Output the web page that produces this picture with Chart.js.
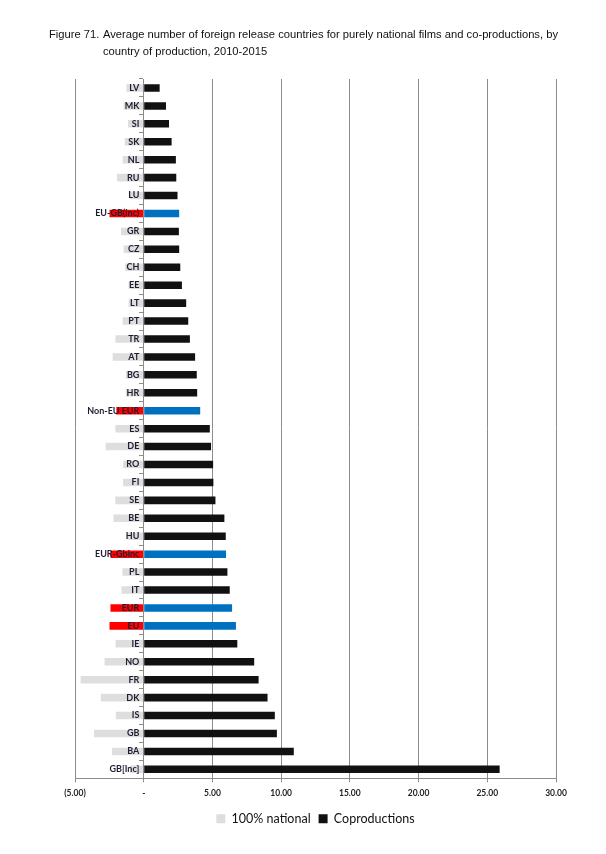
<!DOCTYPE html>
<html>
<head>
<meta charset="utf-8">
<script src="https://cdn.jsdelivr.net/npm/chart.js@4"></script>
<style>
  html, body { margin: 0; padding: 0; background: #fff; }
  #wrap { position: relative; width: 606px; height: 854px; }
  #title {
    position: absolute; left: 49px; top: 26px;
    font-family: "Liberation Sans", Arial, sans-serif;
    font-size: 11.2px; line-height: 17px; color: #111;
    display: flex; white-space: nowrap;
  }
  #title .num { width: 54px; flex: none; }
</style>
</head>
<body>
<div id="wrap">
  <div id="title">
    <div class="num">Figure 71.</div>
    <div>Average number of foreign release countries for purely national films and co-productions, by<br>country of production, 2010-2015</div>
  </div>
  <canvas id="chart"></canvas>
</div>
<script>
const countries = ['LV', 'MK', 'SI', 'SK', 'NL', 'RU', 'LU', 'EU-GB(inc)', 'GR', 'CZ', 'CH', 'EE', 'LT', 'PT',
  'TR', 'AT', 'BG', 'HR', 'Non-EU EUR', 'ES', 'DE', 'RO', 'FI', 'SE', 'BE', 'HU', 'EUR-Gbinc', 'PL', 'IT',
  'EUR', 'EU', 'IE', 'NO', 'FR', 'DK', 'IS', 'GB', 'BA', 'GB[Inc]'];

// purely national films (drawn to the left of zero)
const nationalValues = [1.26, 1.46, 1.14, 1.38, 1.53, 1.94, 1.0, 2.49, 1.65, 1.46, 1.35, 1.1, 1.1, 1.53,
  2.06, 2.26, 1.3, 1.3, 1.99, 2.06, 2.77, 1.5, 1.5, 2.07, 2.2, 1.2, 2.42, 1.55, 1.62,
  2.42, 2.49, 2.05, 2.85, 4.59, 3.12, 2.03, 3.62, 2.3, 1.0];

const coproductionValues = [1.16, 1.62, 1.84, 2.03, 2.34, 2.37, 2.46, 2.58, 2.56, 2.58, 2.66, 2.78, 3.09, 3.24,
  3.36, 3.74, 3.86, 3.89, 4.11, 4.81, 4.9, 5.05, 5.07, 5.22, 5.87, 5.97, 5.99, 6.09, 6.26,
  6.43, 6.71, 6.81, 8.04, 8.36, 9.01, 9.54, 9.69, 10.92, 25.9];

// aggregates shown in red / blue
const highlighted = ['EU-GB(inc)', 'Non-EU EUR', 'EUR-Gbinc', 'EUR', 'EU'];

const xTicks = [-5, 0, 5, 10, 15, 20, 25, 30];

const isHighlighted = i => i !== undefined && highlighted.includes(countries[i]);

const formatTick = v => {
  if (v === 0) return '-';
  const s = Math.abs(v).toFixed(2);
  return v < 0 ? '(' + s + ')' : s;
};

new Chart(document.getElementById('chart'), {
  type: 'bar',
  data: {
    labels: countries,
    datasets: [
      {
        label: '100% national',
        data: nationalValues.map(v => -v),
        backgroundColor: ctx => isHighlighted(ctx.dataIndex) ? '#ff0000' : '#dedede',
        borderWidth: 0
      },
      {
        label: 'Coproductions',
        data: coproductionValues,
        backgroundColor: ctx => isHighlighted(ctx.dataIndex) ? '#0070c0' : '#111111',
        borderWidth: 0
      }
    ]
  },
  options: {
    indexAxis: 'y',
    responsive: true,
    maintainAspectRatio: false,
    animation: false,
    barPercentage: 0.42,
    categoryPercentage: 1,
    layout: { padding: { top: 79, left: 75, right: 50, bottom: 19 } },
    scales: {
      x: {
        stacked: true,
        min: -5,
        max: 30,
        afterBuildTicks: axis => { axis.ticks = xTicks.map(v => ({ value: v })); },
        grid: { color: '#8c8c8c', tickLength: 4 },
        border: { color: '#8c8c8c' },
        ticks: {
          callback: v => formatTick(v),
          color: '#222',
          font: { family: 'Lato', size: 8.5, weight: 'bold' },
          padding: 6,
          maxRotation: 0
        }
      },
      y: {
        stacked: true,
        position: { x: 0 },
        grid: { drawOnChartArea: false, offset: true, tickLength: 4, color: '#8c8c8c' },
        border: { color: '#8c8c8c', z: 1 },
        ticks: {
          z: 1,
          // labels sit just left of the zero line
          callback: function (v) { return this.getLabelForValue(v) + '  '; },
          color: '#1e1e33',
          font: { family: 'Lato', size: 9, weight: 'bold' },
          padding: 0,
          autoSkip: false
        }
      }
    },
    plugins: {
      legend: {
        position: 'bottom',
        labels: {
          boxWidth: 9,
          boxHeight: 9,
          padding: 8,
          color: '#111',
          font: { family: 'Lato', size: 12.5 }
        }
      },
      tooltip: { enabled: false }
    }
  }
});
</script>
</body>
</html>
